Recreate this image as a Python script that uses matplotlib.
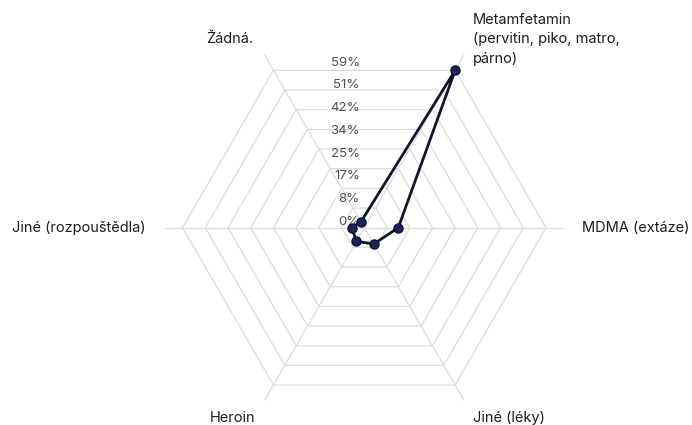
import numpy as np
import matplotlib
matplotlib.use("Agg")
import matplotlib.pyplot as plt
from matplotlib.transforms import ScaledTranslation

plt.rcParams['font.family'] = ['Inter', 'DejaVu Sans']

# ---- data ----
categories = ["Metamfetamin\n(pervitin, piko, matro,\npárno)", "MDMA (extáze)",
              "Jiné (léky)", "Heroin", "Jiné (rozpouštědla)", "Žádná."]
values = [67.4, 12.6, 7.0, 5.8, 4.7, 2.5]
r_max = 67.4
n_rings = 8
tick_labels = ["0%", "8%", "17%", "25%", "34%", "42%", "51%", "59%"]

W, H = 692, 425
fig = plt.figure(figsize=(W / 100, H / 100), dpi=100)

cx, cy, R = 364.3, 227.7, 181.7  # pixel centre / radius (from top)
ax = fig.add_axes([(cx - R) / W, (H - cy - R) / H, 2 * R / W, 2 * R / H],
                  projection='polar')
ax.set_theta_offset(np.pi / 3)
ax.set_theta_direction(-1)
ax.set_ylim(0, r_max)
ax.grid(False)
ax.set_xticks([])
ax.set_yticks([])
ax.spines['polar'].set_visible(False)
ax.set_facecolor('none')

n = len(categories)
thetas = np.arange(n) * 2 * np.pi / n
grid_col = '#dcdcdc'

# hexagonal rings
step = r_max / n_rings
for k in range(1, n_rings + 1):
    th = np.append(thetas, thetas[0])
    ax.plot(th, [step * k] * (n + 1), color=grid_col, lw=0.9, zorder=1, clip_on=False)
# spokes
for t in thetas:
    ax.plot([t, t], [0, r_max * 1.095], color=grid_col, lw=0.9, zorder=1, clip_on=False)

# data
th = np.append(thetas, thetas[0])
vv = np.append(values, values[0])
ax.plot(th, vv, color='#111629', lw=2.0, zorder=3, clip_on=False)
ax.plot(thetas, values, 'o', ms=6.5, mfc='#1c2454', mec='#0c1233', mew=1.0,
        zorder=4, clip_on=False)

# tick labels (vertical direction)
up_theta = -np.pi / 6
off = ScaledTranslation(-4.5 / 100, 6 / 100, fig.dpi_scale_trans)
for k, lab in enumerate(tick_labels):
    ax.text(up_theta, step * k, lab, ha='right', va='center', fontsize=9.5,
            color='#505050', transform=ax.transData + off, zorder=2)

# category labels (pixel positions)
def ftext(x, y, s, **kw):
    fig.text(x / W, 1 - y / H, s, fontsize=10.5, color='#1e1e1e', **kw)

ftext(473, 13, categories[0], ha='left', va='top', linespacing=1.5)
ftext(582, 228, categories[1], ha='left', va='center')
ftext(473, 418, categories[2], ha='left', va='center')
ftext(255, 418, categories[3], ha='right', va='center')
ftext(146, 228, categories[4], ha='right', va='center')
ftext(253, 39, categories[5], ha='right', va='center')

fig.savefig('out.png', dpi=100)
